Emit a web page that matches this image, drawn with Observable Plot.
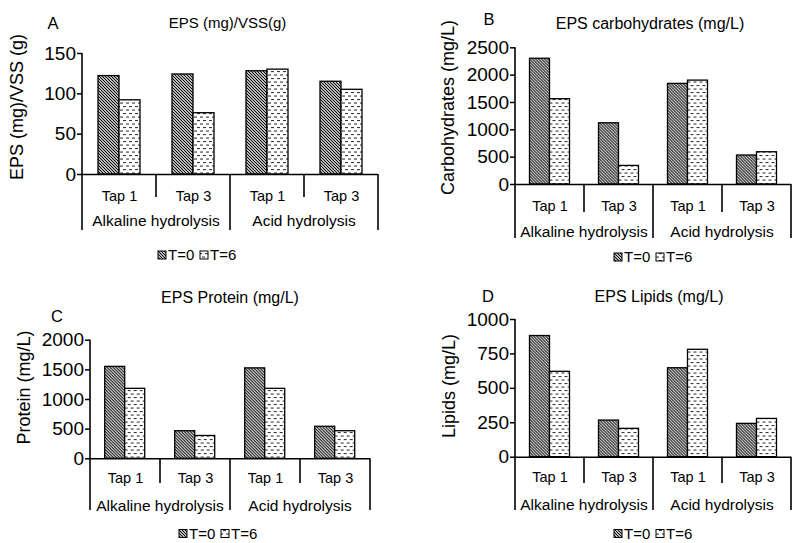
<!DOCTYPE html>
<html>
<head>
<meta charset="utf-8">
<script src="https://cdn.jsdelivr.net/npm/d3@7"></script>
<script src="https://cdn.jsdelivr.net/npm/@observablehq/plot@0.6"></script>
<style>
  body { margin: 0; background: #fff; }
  #wrap { position: relative; width: 798px; height: 543px; overflow: hidden; background: #fff;
          font-family: "Liberation Sans", Arial, sans-serif; }
  #wrap svg.panel { position: absolute; overflow: visible; }
</style>
</head>
<body>
<svg width="0" height="0" style="position:absolute">
  <defs>
    <pattern id="p0" patternUnits="userSpaceOnUse" width="3" height="3">
      <rect width="3" height="3" fill="white"/>
      <path d="M-1,-1 L4,4 M-1,2 L1,4 M2,-1 L4,1" stroke="black" stroke-width="1.1"/>
    </pattern>
    <pattern id="p1" patternUnits="userSpaceOnUse" width="6" height="7">
      <rect width="6" height="7" fill="white"/>
      <rect x="1" y="1" width="3" height="1.1" fill="#3a3a3a"/>
      <rect x="4" y="4.5" width="3" height="1.1" fill="#3a3a3a"/>
      <rect x="-2" y="4.5" width="3" height="1.1" fill="#3a3a3a"/>
    </pattern>
  </defs>
</svg>
<div id="wrap"></div>
<script>
// ---- data ----
const hydrolysis = ["Alkaline hydrolysis", "Alkaline hydrolysis", "Acid hydrolysis", "Acid hydrolysis"];
const taps = ["Tap 1", "Tap 3", "Tap 1", "Tap 3"];
const series = ["T=0", "T=6"];

const epsVssT0 = [122, 124, 128, 115];
const epsVssT6 = [92, 76, 130, 105];
const carbT0 = [2300, 1120, 1840, 530];
const carbT6 = [1560, 340, 1900, 590];
const protT0 = [1550, 465, 1525, 540];
const protT6 = [1180, 385, 1180, 465];
const lipT0 = [880, 266, 646, 242];
const lipT6 = [620, 206, 780, 278];

const ticksA = [0, 50, 100, 150];
const ticksB = [0, 500, 1000, 1500, 2000, 2500];
const ticksC = [0, 500, 1000, 1500, 2000];
const ticksD = [0, 250, 500, 750, 1000];

// ---- layout ----
const panels = [
  {letter: "A", title: "EPS (mg)/VSS(g)", ylabel: "EPS (mg)/VSS (g)", t0: epsVssT0, t6: epsVssT6, ticks: ticksA,
   left: 0, top: 0, h: 270, mL: 80, mR: 21, mT: 53, mB: 96, tapPad: 16,
   titleX: 227.5, titleY: 28, titleFs: 15, letX: 53, letY: 29.3, ylX: 22.7, ylY: 107,
   grpY: 226, longEnd: 230, shortEnd: 197, legX: 200, legY: 255},
  {letter: "B", title: "EPS carbohydrates (mg/L)", ylabel: "Carbohydrates (mg/L)", t0: carbT0, t6: carbT6, ticks: ticksB,
   left: 400, top: 0, h: 270, mL: 113.5, mR: 8.3, mT: 47.3, mB: 86, tapPad: 16,
   titleX: 250, titleY: 29.3, titleFs: 16, letX: 89, letY: 25, ylX: 53.5, ylY: 107.5,
   grpY: 237, longEnd: 238, shortEnd: 212, legX: 256, legY: 257},
  {letter: "C", title: "EPS Protein (mg/L)", ylabel: "Protein (mg/L)", t0: protT0, t6: protT6, ticks: ticksC,
   left: 0, top: 270, h: 273, mL: 89.3, mR: 30, mT: 69.7, mB: 84.7, tapPad: 13.5,
   titleX: 230, titleY: 33.3, titleFs: 16, letX: 57, letY: 52.3, ylX: 29.5, ylY: 117.5,
   grpY: 240.5, longEnd: 240, shortEnd: 213, legX: 221, legY: 263.5},
  {letter: "D", title: "EPS Lipids (mg/L)", ylabel: "Lipids (mg/L)", t0: lipT0, t6: lipT6, ticks: ticksD,
   left: 400, top: 270, h: 273, mL: 113.5, mR: 8, mT: 49, mB: 86.3, tapPad: 15,
   titleX: 259, titleY: 31.7, titleFs: 16, letX: 88, letY: 32.3, ylX: 55, ylY: 116,
   grpY: 240, longEnd: 240, shortEnd: 213, legX: 256, legY: 263.5}
];

const wrap = document.getElementById("wrap");
const FONT = "'Liberation Sans', Arial, sans-serif";

for (const p of panels) {
  const rows = [];
  for (let i = 0; i < taps.length; i++) {
    rows.push({g: i, s: series[0], v: p.t0[i]});
    rows.push({g: i, s: series[1], v: p.t6[i]});
  }
  const ymax = p.ticks[p.ticks.length - 1];
  const chart = Plot.plot({
    width: 400, height: p.h,
    marginLeft: p.mL, marginRight: p.mR, marginTop: p.mT, marginBottom: p.mB,
    style: {fontFamily: FONT, background: "transparent", color: "black", overflow: "visible"},
    fx: {domain: [0, 1, 2, 3], padding: 0, axis: null, label: null},
    x: {domain: series, paddingInner: 0, paddingOuter: 0.72, axis: null},
    y: {domain: [0, ymax], axis: null},
    color: {domain: series, range: ["url(#p0)", "url(#p1)"]},
    marks: [
      Plot.barY(rows, {fx: "g", x: "s", y: "v", fill: "s", stroke: "black", strokeWidth: 1.3, inset: 0}),
      Plot.ruleY([0], {stroke: "black", strokeWidth: 1.6}),
      Plot.axisY({ticks: p.ticks, tickSize: 5, tickPadding: 1.5, fontSize: 19, strokeWidth: 1.5,
                  label: null, tickFormat: d => String(d)}),
      Plot.axisFx({anchor: "bottom", tickSize: 0, tickPadding: p.tapPad, fontSize: 14.5, label: null,
                   tickFormat: i => taps[i]})
    ]
  });
  chart.classList.add("panel");
  chart.style.left = p.left + "px";
  chart.style.top = p.top + "px";
  wrap.appendChild(chart);

  const svg = d3.select(chart);
  const fx = chart.scale("fx");
  const y = chart.scale("y");
  const bw = fx.bandwidth;
  const xs = [0, 1, 2, 3].map(i => fx.apply(i));
  xs.push(xs[3] + bw);
  const y0 = y.apply(0), yTop = y.apply(ymax);

  const g = svg.append("g").attr("stroke", "black").attr("stroke-width", 1.6);
  // left axis line, extended down through category rows
  g.append("line").attr("x1", xs[0]).attr("x2", xs[0]).attr("y1", yTop).attr("y2", p.longEnd);
  // separators
  [1, 2, 3, 4].forEach(k => {
    const long = (k === 2 || k === 4);
    g.append("line").attr("x1", xs[k]).attr("x2", xs[k]).attr("y1", y0).attr("y2", long ? p.longEnd : p.shortEnd);
  });

  // hydrolysis group labels
  const groups = [...new Set(hydrolysis)];
  groups.forEach(name => {
    const idx = hydrolysis.map((h, i) => h === name ? i : -1).filter(i => i >= 0);
    const a = xs[idx[0]], b = xs[idx[idx.length - 1]] + bw;
    svg.append("text").attr("x", (a + b) / 2).attr("y", p.grpY)
      .attr("text-anchor", "middle").attr("font-size", 15.5).attr("font-family", FONT)
      .attr("fill", "black").text(name);
  });

  // y label
  svg.append("text").attr("transform", `translate(${p.ylX},${p.ylY}) rotate(-90)`)
    .attr("text-anchor", "middle").attr("font-size", 18).attr("font-family", FONT)
    .attr("fill", "black").text(p.ylabel);

  // title and letter
  svg.append("text").attr("x", p.titleX).attr("y", p.titleY).attr("text-anchor", "middle")
    .attr("font-size", p.titleFs).attr("font-family", FONT).attr("fill", "black").text(p.title);
  svg.append("text").attr("x", p.letX).attr("y", p.letY).attr("text-anchor", "middle")
    .attr("font-size", 16.5).attr("font-family", FONT).attr("fill", "black").text(p.letter);

  // legend
  const leg = svg.append("g");
  const itemW = 42;
  const startX = p.legX - itemW;
  series.forEach((s, i) => {
    const gx = startX + i * itemW;
    leg.append("rect").attr("x", gx).attr("y", p.legY - 4).attr("width", 8).attr("height", 8)
      .attr("fill", i === 0 ? "url(#p0)" : "url(#p1)").attr("stroke", "black").attr("stroke-width", 1);
    leg.append("text").attr("x", gx + 10).attr("y", p.legY).attr("dy", "0.36em")
      .attr("text-anchor", "start").attr("font-size", 15).attr("font-family", FONT)
      .attr("fill", "black").text(s);
  });
}
</script>
</body>
</html>
